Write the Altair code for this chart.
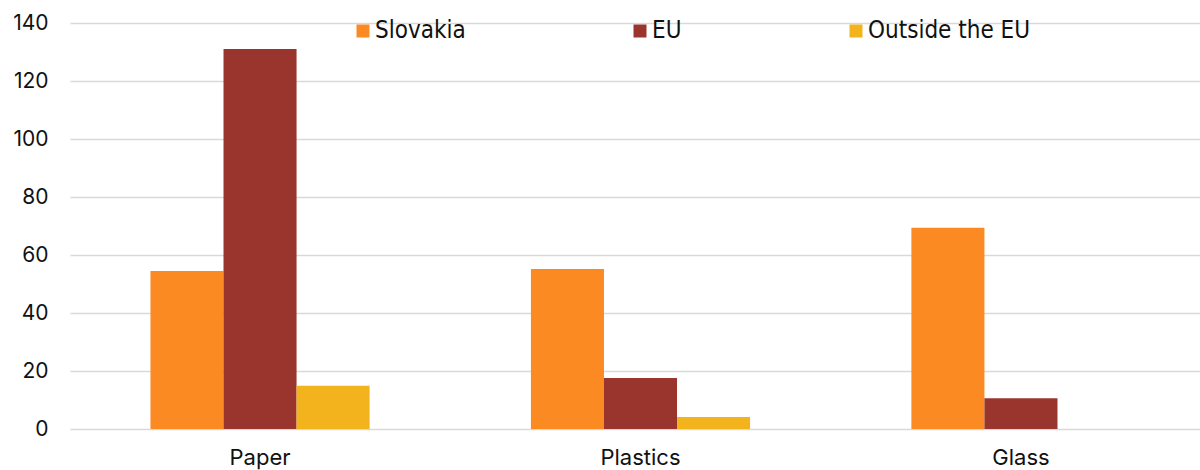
import altair as alt
import pandas as pd

categories = ["Paper", "Plastics", "Glass"]
series = ["Slovakia", "EU", "Outside the EU"]
slovakia = [54.5, 55.2, 69.4]
eu = [131.0, 17.6, 10.6]
outside = [14.9, 4.1, 0.0]
colors = ["#FB8A23", "#9A352D", "#F2B31C"]

rows = []
for i, c in enumerate(categories):
    for s, vals in zip(series, [slovakia, eu, outside]):
        rows.append({"category": c, "series": s, "value": vals[i]})
df = pd.DataFrame(rows)

font = "Inter"
legend_font = "DejaVu Sans Condensed"

chart = alt.Chart(df).mark_bar().encode(
    x=alt.X("category:N", sort=categories, title=None,
            scale=alt.Scale(paddingInner=0.424, paddingOuter=0.2115, range=[0, 1141]),
            axis=alt.Axis(labelAngle=0, ticks=False, domain=False, labelFont=font,
                          labelFontSize=22, labelColor="#111111", labelPadding=18, grid=False)),
    xOffset=alt.XOffset("series:N", sort=series,
                        scale=alt.Scale(paddingInner=0, paddingOuter=0)),
    y=alt.Y("value:Q", title=None,
            scale=alt.Scale(domain=[0, 140], nice=False),
            axis=alt.Axis(values=[0, 20, 40, 60, 80, 100, 120, 140], ticks=False, domain=False,
                          labelFont=font, labelFontSize=21, labelColor="#111111", labelPadding=22,
                          gridColor="#d9d9d9", gridWidth=1.5)),
    color=alt.Color("series:N", sort=series, title=None,
                    scale=alt.Scale(domain=series, range=colors),
                    legend=alt.Legend(orient="none", direction="horizontal", legendX=281, legendY=-4,
                                      columns=3, columnPadding=162, symbolType="square",
                                      symbolSize=169, symbolOpacity=1, labelFont=legend_font,
                                      labelFontSize=24, labelColor="#111111", labelOffset=0,
                                      labelLimit=400)),
).properties(
    width=1130, height=406,
    background="white",
    autosize=alt.AutoSizeParams(type="none"),
    padding={"left": 70, "top": 23, "right": 0, "bottom": 41},
).configure_view(strokeWidth=0, stroke=None)

chart.save("out.html", embed_options={"renderer": "svg", "actions": False})
